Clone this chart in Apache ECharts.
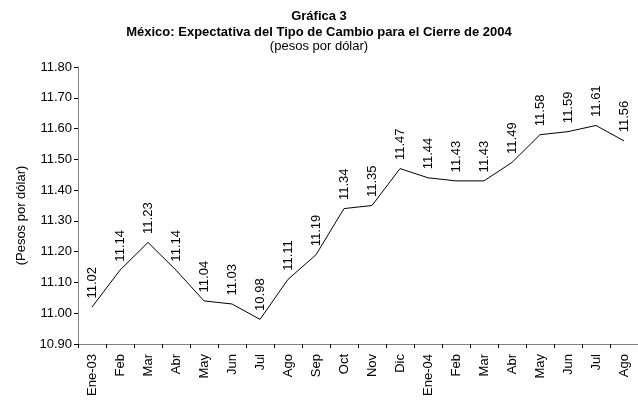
<!DOCTYPE html>
<html>
<head>
<meta charset="utf-8">
<script src="https://cdn.jsdelivr.net/npm/echarts@6/dist/echarts.min.js"></script>
<style>
html,body{margin:0;padding:0;background:#fff;}
#chart{width:638px;height:411px;}
</style>
</head>
<body>
<div id="chart"></div>
<script>
const categories = ['Ene-03','Feb','Mar','Abr','May','Jun','Jul','Ago','Sep','Oct','Nov','Dic',
  'Ene-04','Feb','Mar','Abr','May','Jun','Jul','Ago'];
const values = [11.02,11.14,11.23,11.14,11.04,11.03,10.98,11.11,11.19,11.34,11.35,11.47,
  11.44,11.43,11.43,11.49,11.58,11.59,11.61,11.56];
const yMin = 10.9, yMax = 11.8, yStep = 0.1;
const titleLines = ['Gráfica 3','México: Expectativa del Tipo de Cambio para el Cierre de 2004','(pesos por dólar)'];
const yName = '(Pesos por dólar)';

const FONT = '"Liberation Sans", Arial, sans-serif';
const FS = 13;
const chart = echarts.init(document.getElementById('chart'), null, {renderer:'canvas'});
chart.setOption({
  animation: false,
  backgroundColor: '#ffffff',
  textStyle: {fontFamily: FONT},
  title: [
    {text: titleLines[0], left: 'center', top: 10, padding: 0, textStyle: {fontFamily: FONT, fontSize: FS, fontWeight: 'bold', color: '#000'}},
    {text: titleLines[1], left: 'center', top: 26, padding: 0, textStyle: {fontFamily: FONT, fontSize: FS, fontWeight: 'bold', color: '#000'}},
    {text: titleLines[2], left: 'center', top: 40, padding: 0, textStyle: {fontFamily: FONT, fontSize: FS, fontWeight: 'normal', color: '#000'}}
  ],
  grid: {left: 78, top: 67, width: 562, height: 277, containLabel: false},
  xAxis: {
    type: 'category',
    data: categories,
    boundaryGap: true,
    axisLine: {lineStyle: {color: '#808080', width: 1}},
    axisTick: {show: true, length: 4, inside: false, lineStyle: {color: '#000'}},
    axisLabel: {rotate: 90, interval: 0, margin: 10, fontSize: FS, color: '#000', fontFamily: FONT},
    splitLine: {show: false}
  },
  yAxis: {
    type: 'value',
    min: yMin, max: yMax, interval: yStep,
    name: yName,
    nameLocation: 'middle',
    nameGap: 50,
    nameRotate: 90,
    nameTextStyle: {fontSize: FS, color: '#000', fontFamily: FONT, padding: [0, 20, 0, 0]},
    axisLine: {show: true, lineStyle: {color: '#808080', width: 1}},
    axisTick: {show: true, length: 4, lineStyle: {color: '#000'}},
    axisLabel: {fontSize: FS, color: '#000', margin: 6, fontFamily: FONT, formatter: v => v.toFixed(2)},
    splitLine: {show: false}
  },
  series: [{
    type: 'line',
    data: values,
    symbol: 'circle',
    symbolSize: 1,
    showSymbol: true,
    itemStyle: {color: 'rgba(0,0,0,0)'},
    lineStyle: {color: '#000', width: 1},
    label: {
      show: true, position: 'top', rotate: 90, align: 'left', verticalAlign: 'middle',
      distance: 8, fontSize: FS, color: '#000', fontFamily: FONT,
      formatter: p => p.value.toFixed(2)
    }
  }]
});
</script>
</body>
</html>
